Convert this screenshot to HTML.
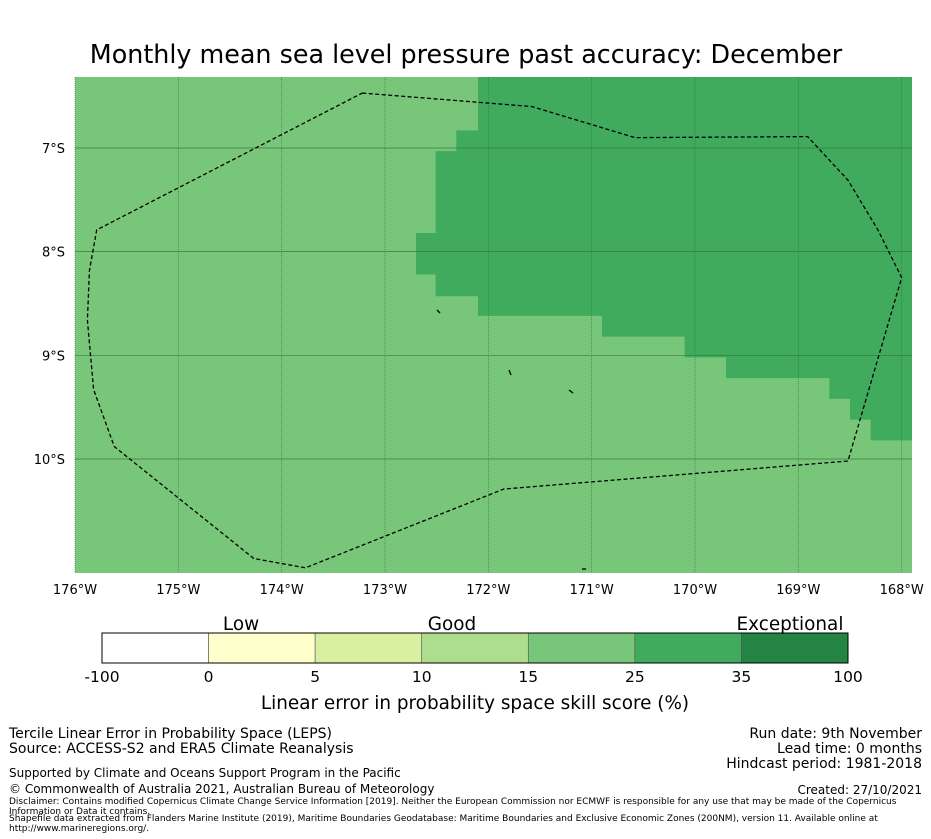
<!DOCTYPE html>
<html><head><meta charset="utf-8"><style>
body{margin:0;background:#fff;font-family:"Liberation Sans","DejaVu Sans",sans-serif;}
svg{display:block}
</style></head><body>
<svg width="931" height="839" xmlns="http://www.w3.org/2000/svg" font-family="DejaVu Sans, Liberation Sans, sans-serif">
<text x="466" y="63" text-anchor="middle" font-size="25.4">Monthly mean sea level pressure past accuracy: December</text>
<g id="map"></g>
<g id="cbar"></g>
<text x="475" y="709" text-anchor="middle" font-size="18.4">Linear error in probability space skill score (%)</text>
<g font-size="14">
<text x="9" y="738">Tercile Linear Error in Probability Space (LEPS)</text>
<text x="9" y="753">Source: ACCESS-S2 and ERA5 Climate Reanalysis</text>
<text x="9" y="777" font-size="12">Supported by Climate and Oceans Support Program in the Pacific</text>
<text x="9" y="793" font-size="12">© Commonwealth of Australia 2021, Australian Bureau of Meteorology</text>
</g>
<g font-size="14" text-anchor="end">
<text x="922" y="738">Run date: 9th November</text>
<text x="922" y="753">Lead time: 0 months</text>
<text x="922" y="768">Hindcast period: 1981-2018</text>
<text x="922" y="794" font-size="12">Created: 27/10/2021</text>
</g>
<g font-size="9">
<text x="9" y="804">Disclaimer: Contains modified Copernicus Climate Change Service Information [2019]. Neither the European Commission nor ECMWF is responsible for any use that may be made of the Copernicus</text>
<text x="9" y="814">Information or Data it contains.</text>
<text x="9" y="821">Shapefile data extracted from Flanders Marine Institute (2019), Maritime Boundaries Geodatabase: Maritime Boundaries and Exclusive Economic Zones (200NM), version 11. Available online at</text>
<text x="9" y="831">http://www.marineregions.org/.</text>
</g>
</svg>
<script>
const NS="http://www.w3.org/2000/svg";
const lonTicks=[-176,-175,-174,-173,-172,-171,-170,-169,-168];
const latTicks=[-7,-8,-9,-10];
const lonMin=-176,lonMax=-167.9,latMax=-6.315,latMin=-11.1;
const highRegionLon=[-172.1,-167.9,-167.9,-168.3,-168.3,-168.5,-168.5,-168.7,-168.7,-169.7,-169.7,-170.1,-170.1,-170.9,-170.9,-172.1,-172.1,-172.51,-172.51,-172.7,-172.7,-172.51,-172.51,-172.31,-172.31,-172.1];
const highRegionLat=[-6.315,-6.315,-9.82,-9.82,-9.62,-9.62,-9.42,-9.42,-9.22,-9.22,-9.02,-9.02,-8.82,-8.82,-8.62,-8.62,-8.43,-8.43,-8.22,-8.22,-7.82,-7.82,-7.03,-7.03,-6.83,-6.83];
const eezLon=[-173.22,-171.58,-170.58,-168.91,-168.52,-168.23,-168.0,-168.52,-171.85,-173.77,-174.27,-175.62,-175.82,-175.88,-175.86,-175.79,-173.22];
const eezLat=[-6.47,-6.6,-6.9,-6.89,-7.31,-7.79,-8.25,-10.02,-10.29,-11.05,-10.96,-9.88,-9.33,-8.66,-8.18,-7.79,-6.47];
const cbLabels=["-100","0","5","10","15","25","35","100"];
const cbColors=["#ffffff","#ffffcc","#d9f0a3","#addd8e","#78c679","#41ab5d","#238443"];
const X0=75,X1=912,Y0=77,Y1=573;
const px=lon=>X0+(lon-lonMin)/(lonMax-lonMin)*(X1-X0);
const py=lat=>Y0+(latMax-lat)/(latMax-latMin)*(Y1-Y0);
function mk(t,a,p){const e=document.createElementNS(NS,t);for(const k in a)e.setAttribute(k,a[k]);p.appendChild(e);return e;}
const map=document.getElementById('map');
const bg=mk('rect',{x:X0,y:Y0,width:X1-X0,height:Y1-Y0,fill:'#78c679'},map);


const hr=mk('polygon',{points:highRegionLon.map((l,i)=>px(l)+','+py(highRegionLat[i])).join(' '),fill:'#41ab5d'},map);


lonTicks.forEach(l=>{const x=px(l);
 const g=mk('line',{x1:x,x2:x,y1:Y0,y2:Y1,stroke:'#2d6b35','stroke-width':0.7,'stroke-dasharray':'1 1','stroke-opacity':0.8},map);
 
 
 const t=mk('text',{x:x,y:Y1+21,'text-anchor':'middle','font-size':13},map);t.textContent=Math.abs(l)+'°W';
 
 });
latTicks.forEach(l=>{const y=py(l);
 const g=mk('line',{x1:X0,x2:X1,y1:y,y2:y,stroke:'#2d6b35','stroke-width':0.7,'stroke-opacity':0.8},map);
 
 
 const t=mk('text',{x:X0-10,y:y+5,'text-anchor':'end','font-size':13},map);t.textContent=Math.abs(l)+'°S';
 
 });
const ez=mk('polyline',{points:eezLon.map((l,i)=>px(l)+','+py(eezLat[i])).join(' '),fill:'none',stroke:'#000','stroke-width':1.3,'stroke-dasharray':'4 2.5'},map);


[[437,310,440,313],[509,370,511,375],[569,390,573,393],[582,569,586,569]].forEach(a=>{
 const s=mk('line',{x1:a[0],y1:a[1],x2:a[2],y2:a[3],stroke:'#000','stroke-width':1.3},map);
 
 });
const cb=document.getElementById('cbar');
const CX0=102,CX1=848,CY=633,CH=30,w=(CX1-CX0)/cbColors.length;
cbColors.forEach((c,i)=>{const r=mk('rect',{x:CX0+i*w,y:CY,width:w,height:CH,fill:c,stroke:'#555','stroke-width':0.6},cb);
 
 });
mk('rect',{x:CX0,y:CY,width:CX1-CX0,height:CH,fill:'none',stroke:'#000','stroke-width':1},cb);
cbLabels.forEach((s,i)=>{const t=mk('text',{x:CX0+i*w,y:CY+CH+19,'text-anchor':'middle','font-size':15.5},cb);t.textContent=s;
 
 });
[["Low",241],["Good",452],["Exceptional",790]].forEach(a=>{const t=mk('text',{x:a[1],y:630,'text-anchor':'middle','font-size':18.4},cb);t.textContent=a[0];
 
 });
</script>
</body></html>
